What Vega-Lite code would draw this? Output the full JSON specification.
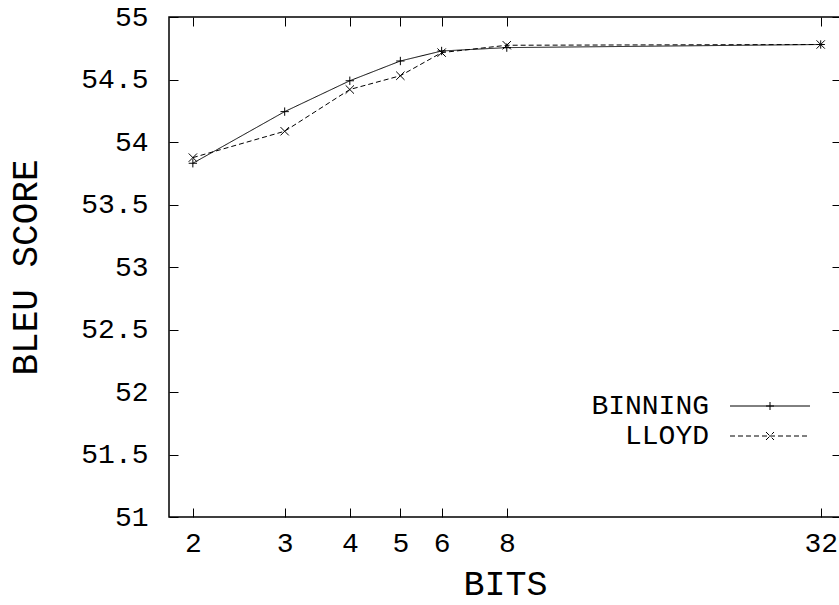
{
  "$schema": "https://vega.github.io/schema/vega-lite/v6.json",
  "width": 672,
  "height": 500,
  "autosize": {"type": "none"},
  "padding": {"left": 169, "top": 17, "right": 0, "bottom": 88},
  "background": "white",
  "config": {
    "view": {"stroke": "black", "strokeWidth": 1.5},
    "font": "Liberation Mono",
    "axis": {
      "grid": false,
      "domain": false,
      "tickColor": "black",
      "tickWidth": 1,
      "tickSize": -9,
      "labelColor": "black",
      "labelFont": "Liberation Mono",
      "labelFontSize": 28,
      "titleFont": "Liberation Mono",
      "titleFontSize": 35,
      "titleFontWeight": "normal",
      "titleColor": "black"
    }
  },
  "data": {
    "values": [
      {"bits": 2, "bleu": 53.83, "method": "BINNING", "marker": "plus"},
      {"bits": 3, "bleu": 54.243, "method": "BINNING", "marker": "plus"},
      {"bits": 4, "bleu": 54.49, "method": "BINNING", "marker": "plus"},
      {"bits": 5, "bleu": 54.648, "method": "BINNING", "marker": "plus"},
      {"bits": 6, "bleu": 54.728, "method": "BINNING", "marker": "plus"},
      {"bits": 8, "bleu": 54.755, "method": "BINNING", "marker": "plus"},
      {"bits": 32, "bleu": 54.78, "method": "BINNING", "marker": "plus"},
      {"bits": 2, "bleu": 53.875, "method": "LLOYD", "marker": "cross"},
      {"bits": 3, "bleu": 54.086, "method": "LLOYD", "marker": "cross"},
      {"bits": 4, "bleu": 54.42, "method": "LLOYD", "marker": "cross"},
      {"bits": 5, "bleu": 54.53, "method": "LLOYD", "marker": "cross"},
      {"bits": 6, "bleu": 54.715, "method": "LLOYD", "marker": "cross"},
      {"bits": 8, "bleu": 54.774, "method": "LLOYD", "marker": "cross"},
      {"bits": 32, "bleu": 54.78, "method": "LLOYD", "marker": "cross"}
    ]
  },
  "layer": [
    {
      "mark": {"type": "line", "color": "black", "strokeWidth": 1},
      "encoding": {
        "x": {
          "field": "bits",
          "type": "quantitative",
          "scale": {"type": "log", "domain": [1.8, 35], "nice": false},
          "axis": {
            "orient": "bottom",
            "values": [2, 3, 4, 5, 6, 8, 32],
            "format": "~g",
            "labelPadding": 21,
            "title": "BITS",
            "titlePadding": 9
          }
        },
        "y": {
          "field": "bleu",
          "type": "quantitative",
          "scale": {"domain": [51, 55], "nice": false, "zero": false},
          "axis": {
            "orient": "left",
            "values": [51, 51.5, 52, 52.5, 53, 53.5, 54, 54.5, 55],
            "format": "~g",
            "labelPadding": 30,
            "title": "BLEU SCORE",
            "titleFontSize": 36,
            "titlePadding": 36
          }
        },
        "strokeDash": {
          "field": "method",
          "type": "nominal",
          "scale": {"domain": ["BINNING", "LLOYD"], "range": [[1, 0], [5, 3]]},
          "legend": {
            "orient": "none",
            "legendX": 587,
            "legendY": 375,
            "padding": 0,
            "title": null,
            "labelAlign": "right",
            "labelOffset": -75,
            "labelFont": "Liberation Mono",
            "labelFontSize": 28,
            "labelColor": "black",
            "symbolSize": 100,
            "symbolStrokeColor": "black",
            "symbolStrokeWidth": 1,
            "rowPadding": 2,
            "encode": {
              "symbols": {
                "update": {
                  "shape": {"signal": "datum.value === 'BINNING' ? 'M-8,0H8M0,-0.8V0.8M-0.8,0H0.8' : 'M-8,0H8M-0.8,-0.8L0.8,0.8M-0.8,0.8L0.8,-0.8'"},
                  "stroke": {"value": "black"},
                  "fill": {"value": "transparent"}
                }
              }
            }
          }
        }
      }
    },
    {
      "mark": {"type": "point", "filled": false, "color": "black", "strokeWidth": 1, "size": 70, "opacity": 1},
      "encoding": {
        "x": {
          "field": "bits",
          "type": "quantitative",
          "scale": {"type": "log", "domain": [1.8, 35], "nice": false},
          "axis": {"orient": "top", "values": [2, 3, 4, 5, 6, 8, 32], "labels": false, "title": null}
        },
        "y": {
          "field": "bleu",
          "type": "quantitative",
          "scale": {"domain": [51, 55], "nice": false, "zero": false},
          "axis": {"orient": "right", "values": [51, 51.5, 52, 52.5, 53, 53.5, 54, 54.5, 55], "labels": false, "title": null}
        },
        "shape": {
          "field": "marker",
          "type": "nominal",
          "scale": {"domain": ["plus", "cross"], "range": ["M-1,0H1M0,-1V1", "M-1,-1L1,1M-1,1L1,-1"]},
          "legend": null
        }
      }
    }
  ],
  "resolve": {"axis": {"x": "independent", "y": "independent"}}
}
